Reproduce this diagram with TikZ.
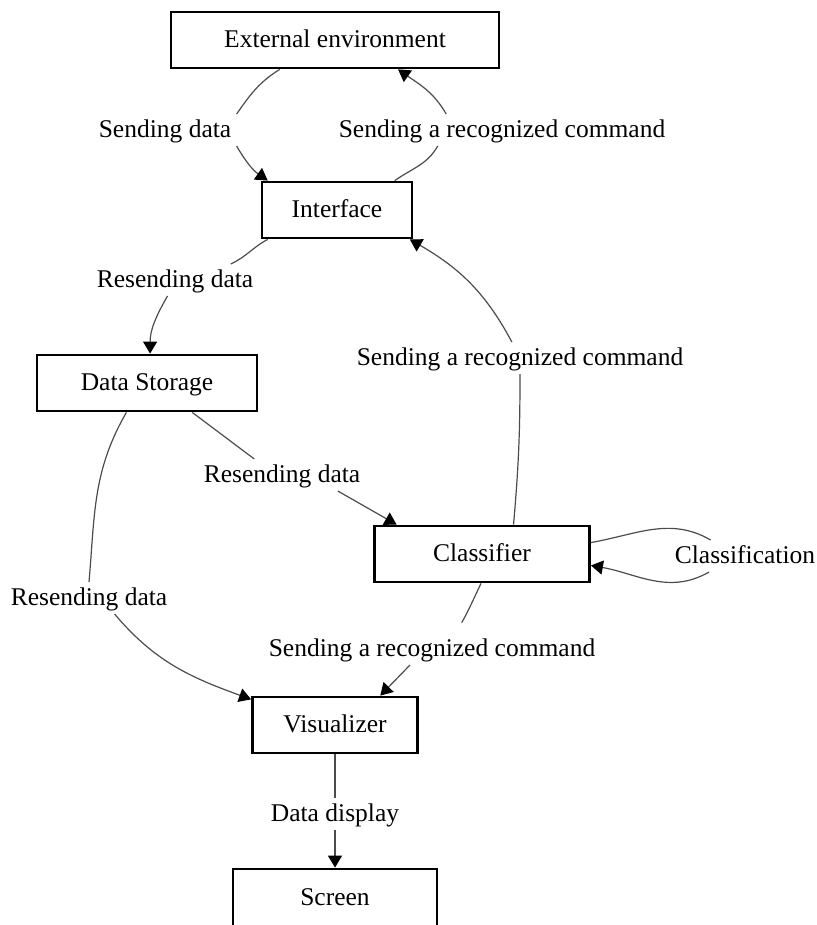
\documentclass[tikz,border=0pt]{standalone}
\usepackage{fontspec}
\setmainfont{Liberation Serif}
\usetikzlibrary{arrows.meta}
\begin{document}
\begin{tikzpicture}[x=0.5pt,y=0.5pt,
	every node/.style={font=\fontsize{12.75}{15}\selectfont,text height=0.9em,text depth=0.16em},
	box/.style={draw,line width=1.4pt,minimum height=28pt,inner sep=0},
	lbl/.style={inner sep=2.5pt},
	conn/.style={draw=black!70,line width=0.6pt},
	arr/.style={conn,-{Triangle[width=7pt,length=6pt,black]}}]
\useasboundingbox (0,0) rectangle (817,-925);
\node[box,minimum width=164pt] (ext) at (335,-40) {External environment};
\node[box,minimum width=75pt] (intf) at (337,-210) {Interface};
\node[box,minimum width=110pt] (store) at (147,-383) {Data Storage};
\node[box,minimum width=107.5pt] (clsf) at (482,-554) {Classifier};
\node[box,minimum width=82.5pt] (vis) at (335,-725) {Visualizer};
\node[box,minimum width=102pt,minimum height=29pt] (scr) at (335,-898) {Screen};
\node[lbl] (sdata) at (165,-130) {Sending data};
\node[lbl] (scmd1) at (502,-130) {Sending a recognized command};
\node[lbl] (rdata1) at (175,-280) {Resending data};
\node[lbl] (scmd2) at (520,-358) {Sending a recognized command};
\node[lbl] (rdata2) at (282,-475) {Resending data};
\node[lbl] (classif) at (745,-556) {Classification};
\node[lbl] (rdata3) at (89,-598) {Resending data};
\node[lbl] (scmd3) at (432,-649) {Sending a recognized command};
\node[lbl] (disp) at (335,-814) {Data display};
\draw[conn] (ext.208) to[out=212,in=55] (sdata.north east);
\draw[arr] (sdata.south east) to[out=-60,in=145] (intf.157);
\draw[conn] (intf.27) to[out=35,in=240] (scmd1.-166);
\draw[arr] (scmd1.164) to[out=120,in=-35] (ext.-25);
\draw[conn] (intf.-157) to[out=208,in=25] (rdata1.16);
\draw[arr] (rdata1.-115) to[out=240,in=90] (store.84);
\draw[conn] (clsf.43) to[out=85,in=-90] (scmd2.south);
\draw[arr] (scmd2.117) to[out=118,in=-30] (intf.-22);
\draw[conn] (store.-33) -- (rdata2.150);
\draw[arr] (rdata2.-16) -- (clsf.161);
\draw[conn] (clsf.6) to[out=10,in=150] (classif.155);
\draw[arr] (classif.-156) to[out=-150,in=-10] (clsf.-6);
\draw[conn] (store.-125) to[out=240,in=85] (rdata3.north);
\draw[arr] (rdata3.-32) to[out=-50,in=160] (vis.163);
\draw[conn,shorten >=6pt] (clsf.-92) to[out=245,in=60] (scmd3.34);
\draw[arr] (scmd3.-144) -- (vis.33);
\draw[conn] (vis.south) -- (disp.north);
\draw[arr] (disp.south) -- (scr.north);
\end{tikzpicture}
\end{document}
